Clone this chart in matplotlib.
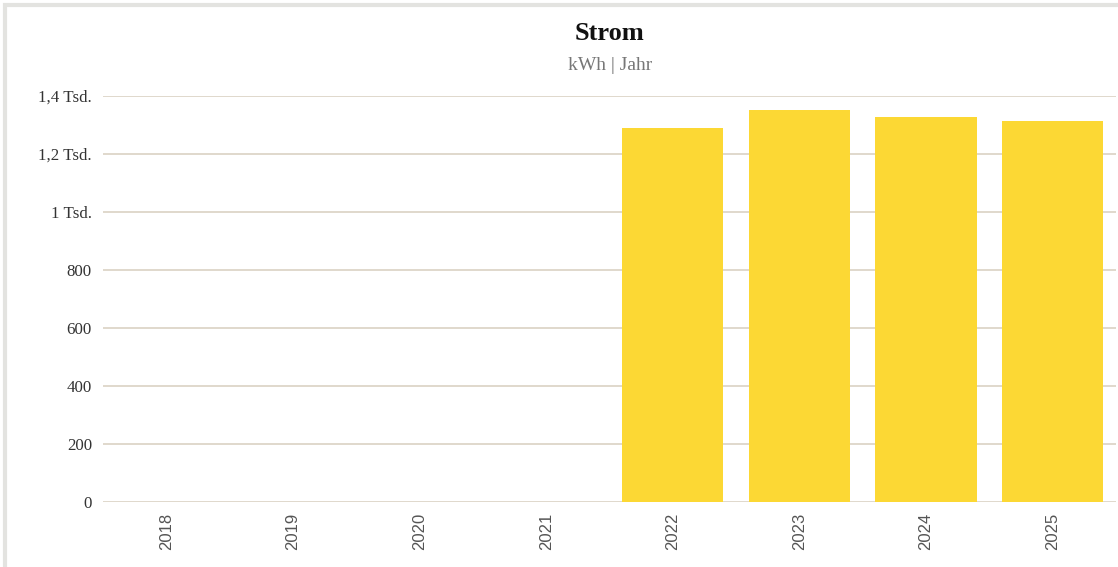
import matplotlib.pyplot as plt
from matplotlib.patches import Rectangle

jahre = ['2018', '2019', '2020', '2021', '2022', '2023', '2024', '2025']
verbrauch = [0, 0, 0, 0, 1290, 1352, 1328, 1314]
y_ticks = [0, 200, 400, 600, 800, 1000, 1200, 1400]
y_labels = ['0', '200', '400', '600', '800', '1 Tsd.', '1,2 Tsd.', '1,4 Tsd.']

W, H = 1118, 567
fig = plt.figure(figsize=(W / 100, H / 100), dpi=100)
fig.patch.set_facecolor('white')

# hellgrauer rahmen links/oben
fig.add_artist(Rectangle((5 / W, -0.1), 1.2, 1.1 - 5 / H, transform=fig.transFigure,
                         fill=False, edgecolor='#e3e3e0', linewidth=3))

ax = fig.add_axes([103 / W, 1 - 502 / H, (1116 - 103) / W, (502 - 96) / H])
x = list(range(len(jahre)))
ax.bar(x, verbrauch, width=0.8, color='#fcd834', zorder=2)

ax.set_xlim(-0.5, len(jahre) - 0.5)
ax.set_ylim(0, 1400)
ax.set_yticks(y_ticks)
ax.set_yticklabels(y_labels, family='Liberation Serif', fontsize=12.2, color='#333333')
ax.set_xticks(x)
ax.set_xticklabels(jahre, rotation=90, family='Liberation Sans', fontsize=12, color='#555555')
ax.tick_params(axis='y', length=0, pad=8)
ax.tick_params(axis='x', length=0, pad=8)
ax.grid(axis='y', color='#ddd5c8', linewidth=1.3, zorder=0)
for s in ax.spines.values():
    s.set_visible(False)

fig.text(610 / W, 1 - 33 / H, 'Strom', ha='center', va='center',
         family='Liberation Serif', fontsize=19, fontweight='bold', color='#111111')
fig.text(610 / W, 1 - 66 / H, 'kWh | Jahr', ha='center', va='center',
         family='Liberation Serif', fontsize=14, color='#777777')

fig.savefig('out.png', dpi=100)
